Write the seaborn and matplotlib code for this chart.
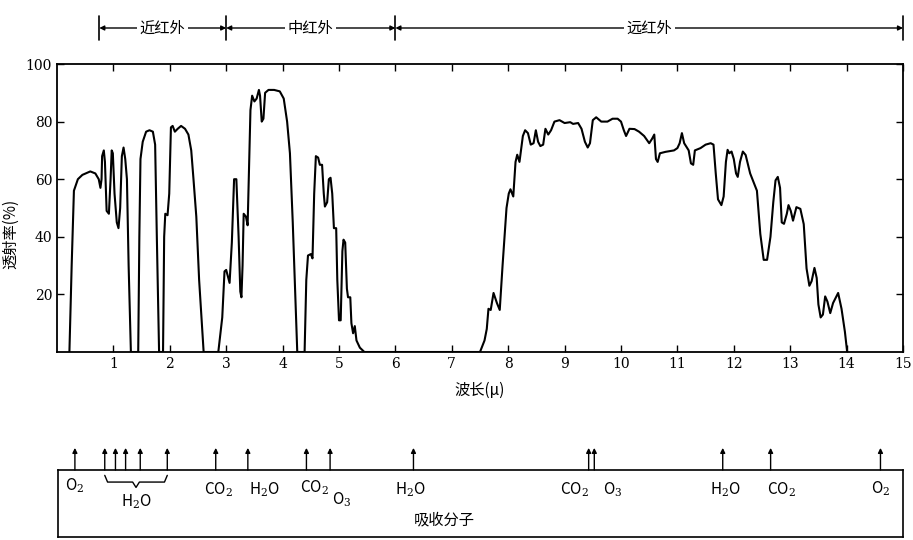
import matplotlib
matplotlib.use('Agg')
import matplotlib.pyplot as plt
import matplotlib.transforms as mtransforms
import seaborn as sns

# transmission curve (wavelength in micron, transmittance in %)
wavelength = [
    0.22, 0.26, 0.30, 0.37, 0.45, 0.59, 0.68, 0.74, 0.77, 0.79, 0.80, 0.83, 0.85, 0.88, 0.92,
    0.95, 0.97, 0.99, 1.02, 1.06, 1.09, 1.12, 1.15, 1.18, 1.21, 1.24, 1.27, 1.31,
    1.44, 1.46, 1.48, 1.52, 1.58, 1.64, 1.70, 1.74, 1.77, 1.81,
    1.88, 1.90, 1.92, 1.96, 1.99, 2.02, 2.05, 2.09, 2.14, 2.20, 2.27, 2.33, 2.38, 2.42, 2.47,
    2.52, 2.60,
    2.86, 2.93, 2.97, 3.00, 3.06, 3.10, 3.14, 3.18, 3.22, 3.25, 3.27, 3.29, 3.31, 3.35, 3.38,
    3.40, 3.43, 3.46, 3.50, 3.54, 3.58, 3.60, 3.63, 3.66, 3.69, 3.75, 3.85, 3.95, 4.02, 4.08,
    4.13, 4.18, 4.26,
    4.39, 4.42, 4.45, 4.50, 4.53, 4.56, 4.59, 4.63, 4.66, 4.70, 4.73, 4.75, 4.79, 4.82, 4.85,
    4.88, 4.91, 4.95, 4.97, 5.00, 5.03, 5.06, 5.08, 5.11, 5.14, 5.16, 5.20, 5.22, 5.25, 5.28,
    5.31, 5.37, 5.45,
    7.50, 7.58, 7.62, 7.65, 7.69, 7.74, 7.80, 7.85, 7.90, 7.97, 8.01, 8.04, 8.09, 8.13, 8.16,
    8.20, 8.26, 8.30, 8.35, 8.40, 8.45, 8.49, 8.53, 8.57, 8.62, 8.66, 8.71, 8.76, 8.82, 8.91,
    9.00, 9.10, 9.15, 9.24, 9.30, 9.36, 9.41, 9.45, 9.50, 9.56, 9.65, 9.76, 9.85, 9.94, 10.00,
    10.05, 10.09, 10.15, 10.24, 10.32, 10.41, 10.50, 10.55, 10.59, 10.62, 10.65, 10.69, 10.79,
    10.94, 11.00, 11.04, 11.08, 11.12, 11.20, 11.24, 11.28, 11.31, 11.41, 11.50, 11.59, 11.64,
    11.68, 11.72, 11.78, 11.82, 11.86, 11.89, 11.92, 11.96, 12.00, 12.04, 12.07, 12.11, 12.16,
    12.21, 12.29, 12.41, 12.47, 12.53, 12.59, 12.65, 12.70, 12.74, 12.78, 12.82, 12.85, 12.89,
    12.94, 12.97, 13.01, 13.05, 13.11, 13.18, 13.24, 13.29, 13.34, 13.38, 13.43, 13.47, 13.50,
    13.54, 13.58, 13.62, 13.66, 13.71, 13.76, 13.85, 13.91, 13.97, 14.01,
]
transmittance = [
    0, 30, 56, 60, 61.5, 62.7, 62, 60, 57, 60, 68, 70, 66, 49, 48,
    60, 70, 69, 55, 45, 43, 50, 68, 71, 67, 60, 30, 0,
    0, 40, 67, 73, 76.5, 77, 76.5, 72, 40, 0,
    0, 40, 48, 47.5, 55, 78, 78.5, 76.5, 77.5, 78.5, 77.5, 75.5, 70, 60, 47,
    25, 0,
    0, 12, 28, 28.5, 24, 38, 60, 60, 40, 21, 19, 30, 48, 47, 44,
    60, 84, 89, 87, 88, 91, 89, 80, 81, 90, 91, 91, 90.5, 88, 80,
    69, 45, 0,
    0, 25, 33.5, 34, 32.5, 55, 68, 67.5, 65, 65, 55, 50.5, 52, 60, 60.5,
    55, 43, 43, 25, 11, 11, 35, 39, 38, 22, 19, 19, 10, 6.5, 9,
    4, 1.5, 0,
    0, 4, 8, 15, 14.6, 20.5, 17, 14.6, 30, 50, 55, 56.5, 54, 66, 68.5,
    66, 75, 77, 76, 72, 72.5, 77, 73, 71.5, 72, 77.5, 75.5, 77, 80, 80.5,
    79.5, 79.8, 79.2, 79.5, 77.5, 73, 71, 72.5, 80.5, 81.5, 80, 80, 81, 81, 80,
    77, 75, 77.5, 77.4, 76.5, 75, 72.5, 74, 75.5, 67, 66, 69, 69.5,
    70, 70.8, 72.5, 76, 72.5, 70, 65.5, 65, 70, 70.8, 72, 72.5, 72,
    62, 53, 51, 54, 66, 70.2, 69, 69.6, 67, 62, 60.8, 66, 69.6,
    68.4, 62, 56, 41, 32, 32, 40, 52, 59.6, 60.8, 57, 45, 44.5,
    48, 51, 49, 45.6, 50.3, 49.7, 44.4, 29, 23, 24.6, 29.2, 25.7, 16.5,
    12, 13, 19.3, 17.5, 13.5, 17, 20.5, 15, 7, 0,
]

x_ticks = list(range(1, 16))
y_ticks = [20, 40, 60, 80, 100]

# infrared bands shown above the plot
band_edges = [0.75, 3, 6, 15]
band_names = ['近红外', '中红外', '远红外']

# absorbing molecules: arrow positions and labels
absorb_lines = [0.30, 0.83, 1.02, 1.20, 1.46, 1.94, 2.80, 3.37, 4.41, 4.83, 6.31,
                9.42, 9.52, 11.80, 12.65, 14.60]
h2o_brace = (0.83, 1.94)
mol_labels = ['O$_2$', 'H$_2$O', 'CO$_2$', 'H$_2$O', 'CO$_2$', 'O$_3$', 'H$_2$O',
              'CO$_2$', 'O$_3$', 'H$_2$O', 'CO$_2$', 'O$_2$']
mol_x = [0.30, 1.39, 2.84, 3.67, 4.55, 5.04, 6.26, 9.17, 9.84, 11.85, 12.84, 14.60]
mol_y = [0.76, 0.52, 0.70, 0.70, 0.73, 0.55, 0.70, 0.70, 0.70, 0.70, 0.70, 0.72]

sns.set_theme(style='ticks')
plt.rcParams['font.family'] = ['Noto Sans CJK SC', 'DejaVu Sans']
plt.rcParams['mathtext.fontset'] = 'dejavuserif'

fig = plt.figure(figsize=(9.13, 5.4), dpi=100)
ax = fig.add_axes([57 / 913, 188 / 540, 846 / 913, 288 / 540])

sns.lineplot(x=wavelength, y=transmittance, ax=ax, color='black', lw=1.5,
             estimator=None, sort=False)
ax.set_xlim(0, 15)
ax.set_ylim(0, 100)
ax.set_xticks(x_ticks)
ax.set_yticks(y_ticks)
ax.set_xticklabels([str(t) for t in x_ticks], family='DejaVu Serif', fontsize=10)
ax.set_yticklabels([str(t) for t in y_ticks], family='DejaVu Serif', fontsize=10)
ax.tick_params(direction='in', top=True, right=True, length=5, width=1, color='black',
               labelcolor='black')
for sp in ax.spines.values():
    sp.set_linewidth(1.3)
    sp.set_color('black')
ax.set_xlabel('波长(μ)', fontsize=11, color='black', labelpad=8)
ax.set_ylabel('透射率(%)', fontsize=11, color='black')
ax.yaxis.set_label_coords(-0.045, 0.41)

# band bar above the axes
trans = mtransforms.blended_transform_factory(ax.transData, ax.transAxes)
bar_y = 1.125
for e in band_edges:
    ax.plot([e, e], [1.085, 1.165], color='black', lw=1.2, transform=trans, clip_on=False)
for (a, b), name in zip(zip(band_edges[:-1], band_edges[1:]), band_names):
    ax.annotate('', xy=(b, bar_y), xytext=(a, bar_y), xycoords=trans, textcoords=trans,
                arrowprops=dict(arrowstyle='<|-|>', color='black', lw=1.0,
                                mutation_scale=7, shrinkA=0, shrinkB=0),
                annotation_clip=False)
    ax.text((a + b) / 2, bar_y, name, transform=trans, ha='center', va='center',
            fontsize=11, color='black',
            bbox=dict(facecolor='white', edgecolor='none', pad=2))

# absorbing molecule panel
ax2 = fig.add_axes([58 / 913, 3 / 540, 845 / 913, 67 / 540])
ax2.set_xlim(0, 15)
ax2.set_ylim(0, 1)
ax2.set_xticks([])
ax2.set_yticks([])
for sp in ax2.spines.values():
    sp.set_linewidth(1.2)
    sp.set_color('black')

for x in absorb_lines:
    ax2.annotate('', xy=(x, 1.33), xytext=(x, 1.0),
                 arrowprops=dict(arrowstyle='-|>', color='black', lw=1.0,
                                 mutation_scale=7, shrinkA=0, shrinkB=0),
                 annotation_clip=False)

a, b = h2o_brace
m = (a + b) / 2
ax2.plot([a, a + 0.05, m - 0.06, m, m + 0.06, b - 0.05, b],
         [0.92, 0.82, 0.82, 0.74, 0.82, 0.82, 0.92], color='black', lw=1.0)

for lab, x, y in zip(mol_labels, mol_x, mol_y):
    ax2.text(x, y, lab, ha='center', va='center', fontsize=11, color='black')
ax2.text(6.86, 0.25, '吸收分子', ha='center', va='center', fontsize=11, color='black')

fig.savefig('out.png', dpi=100, facecolor='white')
